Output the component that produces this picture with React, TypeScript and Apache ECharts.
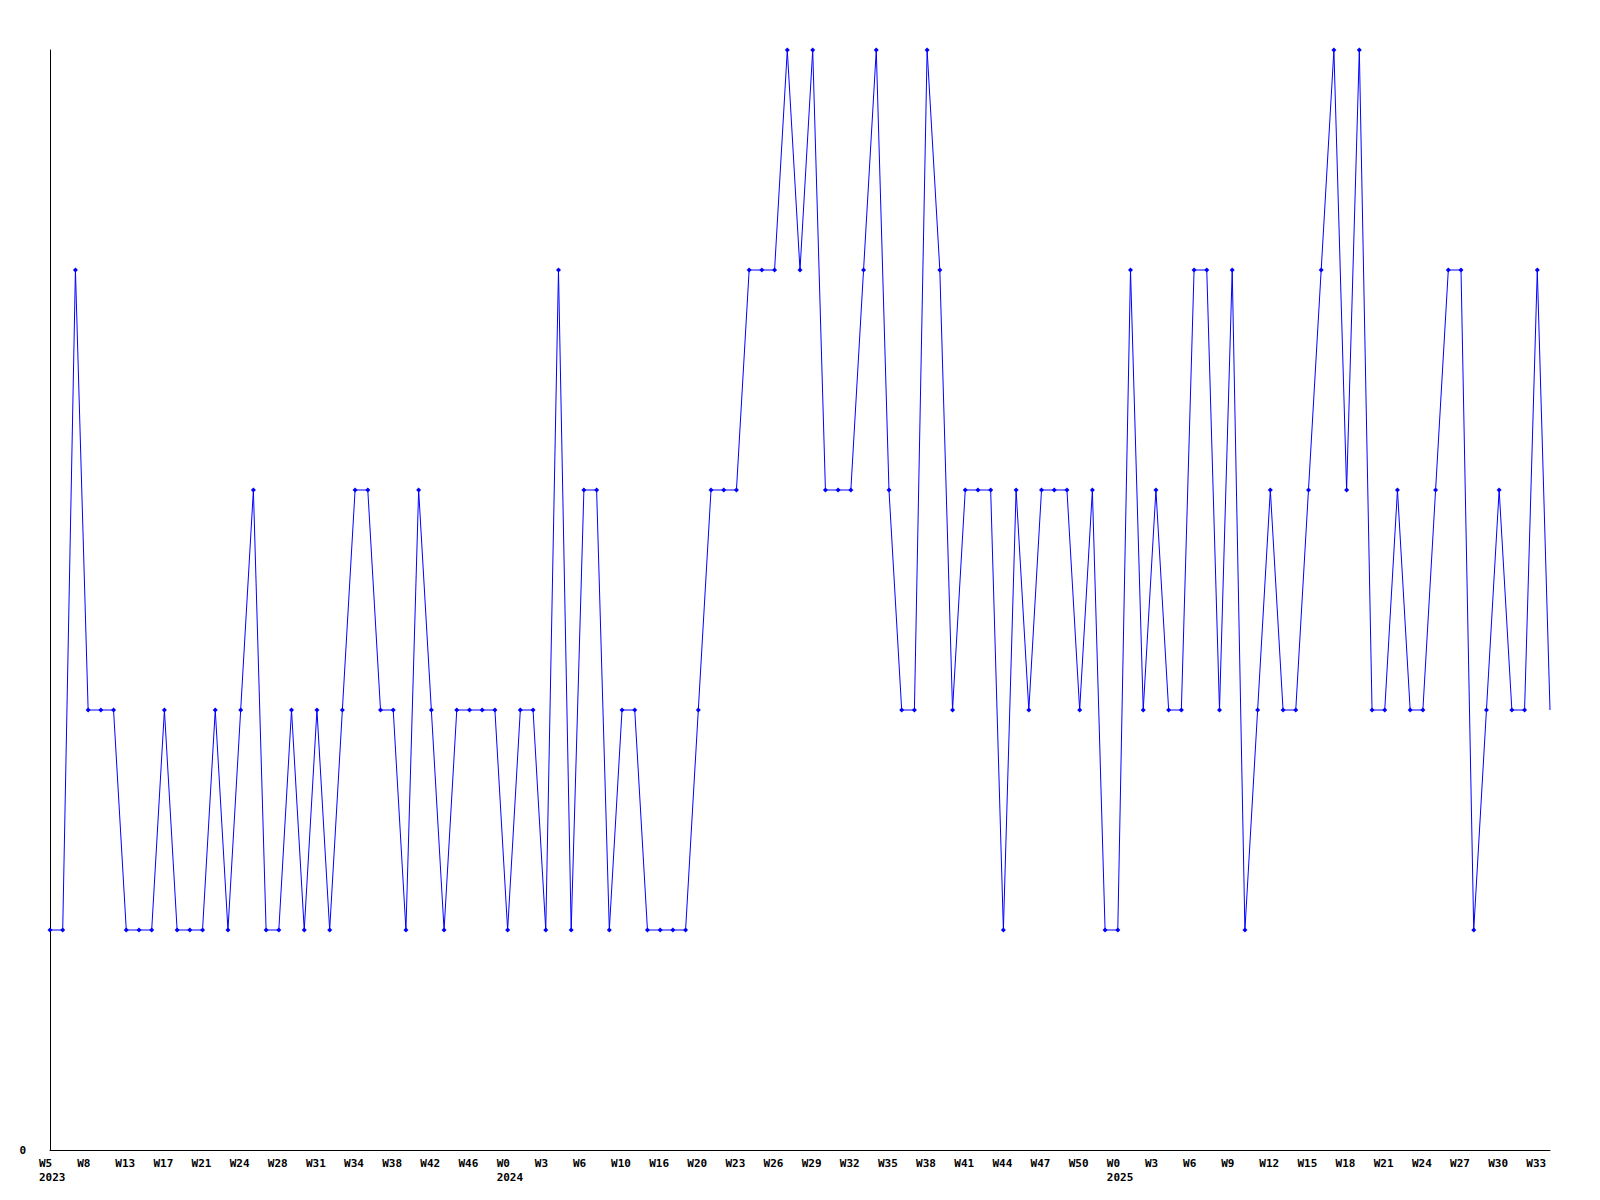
import React, { useEffect, useRef } from "react";
import * as echarts from "echarts";

const weeks = [
  "W5", "W6", "W7", "W8", "W10", "W12", "W13", "W14", "W16", "W17",
  "W19", "W20", "W21", "W22", "W23", "W24", "W26", "W27", "W28", "W29",
  "W30", "W31", "W32", "W33", "W34", "W36", "W37", "W38", "W40", "W41",
  "W42", "W44", "W45", "W46", "W48", "W50", "W0", "W1", "W2", "W3",
  "W4", "W5", "W6", "W8", "W9", "W10", "W12", "W14", "W16", "W17",
  "W18", "W20", "W21", "W22", "W23", "W24", "W25", "W26", "W27", "W28",
  "W29", "W30", "W31", "W32", "W33", "W34", "W35", "W36", "W37", "W38",
  "W39", "W40", "W41", "W42", "W43", "W44", "W45", "W46", "W47", "W48",
  "W49", "W50", "W51", "W52", "W0", "W1", "W2", "W3", "W4", "W5",
  "W6", "W7", "W8", "W9", "W10", "W11", "W12", "W13", "W14", "W15",
  "W16", "W17", "W18", "W19", "W20", "W21", "W22", "W23", "W24", "W25",
  "W26", "W27", "W28", "W29", "W30", "W31", "W32", "W33", "W34",
];

const yearStartIndex = [0, 36, 84];
const yearLabels = ["2023", "2024", "2025"];

const values = [
  1, 1, 4, 2, 2, 2, 1, 1, 1, 2,
  1, 1, 1, 2, 1, 2, 3, 1, 1, 2,
  1, 2, 1, 2, 3, 3, 2, 2, 1, 3,
  2, 1, 2, 2, 2, 2, 1, 2, 2, 1,
  4, 1, 3, 3, 1, 2, 2, 1, 1, 1,
  1, 2, 3, 3, 3, 4, 4, 4, 5, 4,
  5, 3, 3, 3, 4, 5, 3, 2, 2, 5,
  4, 2, 3, 3, 3, 1, 3, 2, 3, 3,
  3, 2, 3, 1, 1, 4, 2, 3, 2, 2,
  4, 4, 2, 4, 1, 2, 3, 2, 2, 3,
  4, 5, 3, 5, 2, 2, 3, 2, 2, 3,
  4, 4, 1, 2, 3, 2, 2, 4, 2,
];

export default function App() {
  const ref = useRef<HTMLDivElement>(null);
  useEffect(() => {
    document.body.style.margin = "0";
    const chart = echarts.init(ref.current!, undefined, { renderer: "svg" });
    const font = "DejaVu Sans Mono";
    const data = values.map((v, i) =>
      i === values.length - 1 ? { value: v, symbol: "none" } : v
    );
    chart.setOption({
      animation: false,
      backgroundColor: "#ffffff",
      grid: { left: 50, right: 50, top: 50, bottom: 50, containLabel: false },
      xAxis: {
        type: "category",
        data: weeks,
        boundaryGap: false,
        axisLine: { show: true, lineStyle: { color: "#000000", width: 1 } },
        axisTick: { show: false },
        splitLine: { show: false },
        axisLabel: {
          interval: 2,
          margin: 6,
          align: "center",
          formatter: (val: string, idx: number) => {
            const yi = yearStartIndex.indexOf(idx);
            return yi >= 0
              ? `{a|${val}}\n{a|${yearLabels[yi]}}`
              : `{a|${val}}`;
          },
          rich: {
            a: {
              width: 22,
              align: "left",
              fontFamily: font,
              fontWeight: "bold",
              fontSize: 11,
              lineHeight: 14,
              color: "#000000",
            },
          },
        },
      },
      yAxis: {
        type: "value",
        min: 0,
        max: 5,
        interval: 1,
        axisLine: { show: true, lineStyle: { color: "#000000", width: 1 } },
        axisTick: { show: false },
        splitLine: { show: false },
        axisLabel: {
          margin: 24,
          fontFamily: font,
          fontWeight: "bold",
          fontSize: 11,
          color: "#000000",
          formatter: (v: number) => (v === 0 ? "0" : ""),
        },
      },
      series: [
        {
          type: "line",
          data,
          symbol: "diamond",
          symbolSize: 5,
          showAllSymbol: true,
          lineStyle: { color: "#0000ff", width: 1 },
          itemStyle: { color: "#0000ff" },
        },
      ],
    });
    return () => chart.dispose();
  }, []);
  return <div ref={ref} style={{ width: 1600, height: 1200 }} />;
}
